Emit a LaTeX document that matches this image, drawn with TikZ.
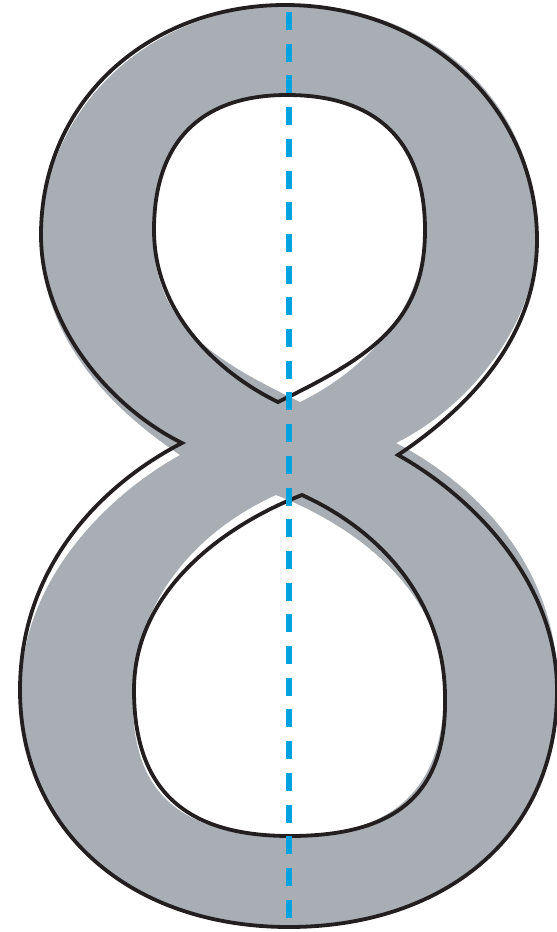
\documentclass[tikz,border=0pt]{standalone}
\usepackage{tikz}
\usetikzlibrary{calc}
\definecolor{slate}{HTML}{A8AEB3}
\definecolor{ink}{HTML}{231F20}
\definecolor{axis}{HTML}{00A3E0}
% outline of the eight, outer contour and the two counters
\newcommand{\eightpath}{%
  (182,443) .. controls (115,410) and (41,330) .. (41,235)
  .. controls (41,100) and (150,5) .. (285,5)
  .. controls (430,5) and (537,110) .. (537,240)
  .. controls (537,340) and (465,410) .. (398,455)
  .. controls (470,495) and (557,580) .. (557,690)
  .. controls (557,840) and (440,927) .. (289,927)
  .. controls (130,927) and (20,830) .. (20,690)
  .. controls (20,560) and (110,480) .. cycle
  (278,402) .. controls (228,378) and (154,320) .. (154,230)
  .. controls (154,148) and (195,95) .. (287,95)
  .. controls (385,95) and (425,150) .. (425,230)
  .. controls (425,320) and (375,355) .. cycle
  (302,495) .. controls (390,535) and (445,610) .. (445,697)
  .. controls (447,795) and (395,836) .. (290,836)
  .. controls (185,836) and (134,790) .. (134,690)
  .. controls (134,590) and (225,525) .. cycle}
\begin{document}
\begin{tikzpicture}[x=1pt,y=-1pt]
\useasboundingbox (0,0) rectangle (557,932);
% mirrored glyph
\begin{scope}[xshift=578pt,xscale=-1]
\fill[slate,even odd rule] \eightpath;
\end{scope}
% original glyph
\draw[ink,line width=3.8pt,line join=miter] \eightpath;
% axis of symmetry
\coordinate (top) at (289,12);
\coordinate (bot) at (289,918);
\draw[axis,line width=6pt,dash pattern=on 18pt off 13.7pt] (top) -- (bot);
\end{tikzpicture}
\end{document}
